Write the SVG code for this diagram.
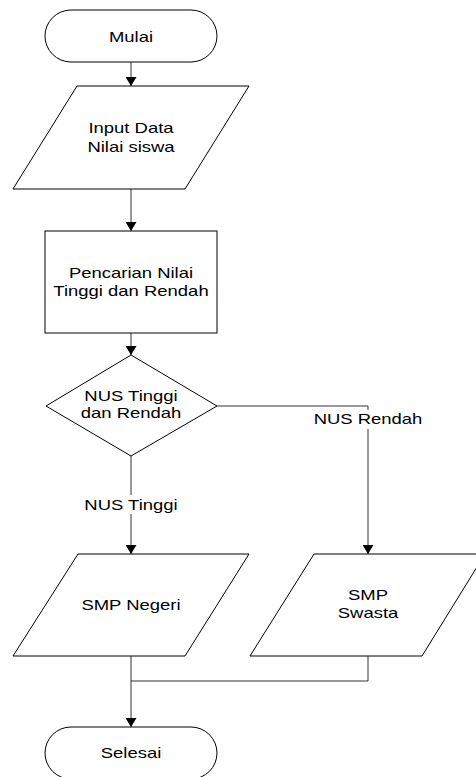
<svg xmlns="http://www.w3.org/2000/svg" width="476" height="777" viewBox="0 0 476 777">
<style>
.shape{fill:#fff;stroke:#000;stroke-width:1}
.conn{fill:none;stroke:#333;stroke-width:1}
.t{font-family:"Liberation Sans",Arial,sans-serif;font-size:14px;fill:#000;text-anchor:middle}
</style>
<defs>
<marker id="arr" markerUnits="userSpaceOnUse" markerWidth="10" markerHeight="11" refX="9" refY="5.5" orient="auto">
<path d="M0,0 L9,5.5 L0,11 z" fill="#000"/>
</marker>
</defs>
<rect width="476" height="777" fill="#fff"/>
<g id="connectors">
<path class="conn" d="M131,62 V86" marker-end="url(#arr)"/>
<path class="conn" d="M131,189 V231" marker-end="url(#arr)"/>
<path class="conn" d="M131,333 V355" marker-end="url(#arr)"/>
<path class="conn" d="M217,406 H368 V554" marker-end="url(#arr)"/>
<path class="conn" d="M131,456 V554" marker-end="url(#arr)"/>
<path class="conn" d="M368,656 V681 H131"/>
<path class="conn" d="M131,656 V727" marker-end="url(#arr)"/>
<g id="label-rendah">
<rect x="311" y="410" width="114" height="19" fill="#fff"/>
<text class="t" transform="translate(368,424) scale(1.32,1)">NUS Rendah</text>
</g>
<g id="label-tinggi">
<rect x="82" y="495" width="100" height="19" fill="#fff"/>
<text class="t" transform="translate(131,510) scale(1.32,1)">NUS Tinggi</text>
</g>
</g>
<g id="mulai">
<rect class="shape" x="45" y="10" width="172" height="52" rx="26" ry="26"/>
<text class="t" transform="translate(131,41.5) scale(1.32,1)">Mulai</text>
</g>
<g id="input">
<polygon class="shape" points="77,86 249,86 185,189 13,189"/>
<text class="t" transform="translate(131,133) scale(1.32,1)">Input Data</text>
<text class="t" transform="translate(131,152) scale(1.32,1)">Nilai siswa</text>
</g>
<g id="pencarian">
<rect class="shape" x="45" y="231" width="172" height="102"/>
<text class="t" transform="translate(131,277.5) scale(1.32,1)">Pencarian Nilai</text>
<text class="t" transform="translate(131,296) scale(1.32,1)">Tinggi dan Rendah</text>
</g>
<g id="decision">
<polygon class="shape" points="131,355 217,406 131,456 46,406"/>
<text class="t" transform="translate(131,401) scale(1.32,1)">NUS Tinggi</text>
<text class="t" transform="translate(131,418) scale(1.32,1)">dan Rendah</text>
</g>
<g id="smp-negeri">
<polygon class="shape" points="78,554 249,554 185,656 13,656"/>
<text class="t" transform="translate(131,610) scale(1.32,1)">SMP Negeri</text>
</g>
<g id="smp-swasta">
<polygon class="shape" points="314,554 485,554 422,656 250,656"/>
<text class="t" transform="translate(368,600) scale(1.32,1)">SMP</text>
<text class="t" transform="translate(368,618) scale(1.32,1)">Swasta</text>
</g>
<g id="selesai">
<rect class="shape" x="45" y="727" width="172" height="52" rx="26" ry="26"/>
<text class="t" transform="translate(131,758) scale(1.32,1)">Selesai</text>
</g>
</svg>
